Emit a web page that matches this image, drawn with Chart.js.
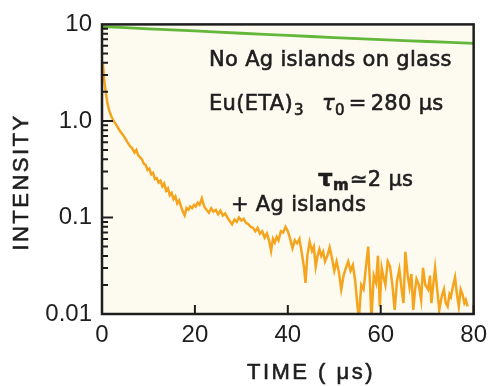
<!DOCTYPE html>
<html>
<head>
<meta charset="utf-8">
<script src="https://cdn.jsdelivr.net/npm/chart.js@4.4.0/dist/chart.umd.min.js"></script>
<style>
  html, body { margin: 0; padding: 0; background: #fff; }
  #wrap { width: 494px; height: 386px; }
</style>
</head>
<body>
<div id="wrap"><canvas id="chart" width="494" height="386"></canvas></div>
<script>
// values
const greenTime = [0, 10, 20, 30, 40, 50, 60, 70, 80];
const greenIntensity = [9.5, 9.0, 8.55, 8.1, 7.7, 7.3, 6.95, 6.65, 6.35];

const orangeTime = [
  0.2, 0.5, 0.8, 1.1, 1.5, 2.0, 2.5, 3.0, 3.5, 4.0, 4.5, 5.0, 5.5, 6.0, 6.5, 7.0, 7.4, 7.8, 8.2, 8.6,
  9.0, 9.4, 9.8, 10.2, 10.6, 11.0, 11.4, 11.8, 12.2, 12.6, 13.0, 13.4, 13.8, 14.2, 14.6, 15.0, 15.4, 15.8, 16.2, 16.6,
  17.0, 17.4, 17.8, 18.2, 18.6, 19.0, 19.4, 19.8, 20.2, 20.6, 21.0, 21.5, 22.0, 22.5, 23.0, 23.5, 24.0, 24.5, 25.0, 25.5,
  26.0, 26.5, 27.0, 27.5, 28.0, 28.5, 29.0, 29.5, 30.0, 30.5, 31.0, 31.5, 32.0, 32.5, 33.0, 33.5, 34.0, 34.5, 35.0, 35.5,
  36.0, 36.4, 36.8, 37.2, 37.6, 38.0, 38.5, 39.0, 39.5, 40.0, 40.5, 41.0, 41.5, 42.0, 42.5, 43.0, 43.5, 43.8, 44.2, 44.7,
  45.2, 45.6, 46.0, 46.4, 46.8, 47.2, 47.6, 48.0, 48.5, 49.0, 49.5, 50.0, 50.5, 51.0, 51.5, 52.0, 52.5, 53.0, 53.5, 54.0,
  54.5, 55.0, 55.3, 55.8, 56.3, 56.8, 57.3, 57.7, 58.0, 58.5, 59.0, 59.4, 59.8, 60.2, 60.6, 61.0, 61.5, 62.0, 62.5, 63.0,
  63.5, 64.0, 64.5, 64.9, 65.3, 65.8, 66.2, 66.6, 67.0, 67.4, 67.7, 68.2, 68.7, 69.1, 69.6, 70.2, 70.6, 70.9, 71.3, 71.7,
  72.2, 72.6, 73.1, 73.6, 74.0, 74.4, 74.8, 75.1, 75.6, 76.0, 76.4, 76.8, 77.2, 77.6, 78.0, 78.3, 78.7
];
const orangeIntensity = [
  3.9, 2.6, 2.0, 1.6, 1.3, 1.12, 1.0, 0.92, 0.84, 0.77, 0.72, 0.66, 0.6, 0.55, 0.52, 0.47, 0.5, 0.44, 0.42, 0.4,
  0.36, 0.35, 0.31, 0.32, 0.28, 0.29, 0.25, 0.255, 0.23, 0.24, 0.21, 0.225, 0.19, 0.2, 0.17, 0.18, 0.155, 0.165, 0.14, 0.15,
  0.13, 0.115, 0.105, 0.125, 0.12, 0.13, 0.125, 0.135, 0.13, 0.142, 0.135, 0.158, 0.13, 0.12, 0.112, 0.125, 0.115, 0.12, 0.108, 0.118,
  0.105, 0.11, 0.1, 0.092, 0.085, 0.095, 0.09, 0.1, 0.093, 0.097, 0.088, 0.085, 0.08, 0.078, 0.072, 0.078, 0.068, 0.072, 0.062, 0.068,
  0.057, 0.045, 0.06, 0.055, 0.063, 0.058, 0.072, 0.07, 0.08, 0.072, 0.06, 0.048, 0.058, 0.054, 0.06, 0.043, 0.03, 0.021, 0.04, 0.056,
  0.045, 0.05, 0.031, 0.04, 0.047, 0.04, 0.044, 0.035, 0.04, 0.049, 0.038, 0.028, 0.035, 0.027, 0.018, 0.025, 0.03, 0.035, 0.028, 0.032,
  0.022, 0.012, 0.009, 0.02, 0.018, 0.03, 0.05, 0.02, 0.009, 0.025, 0.021, 0.04, 0.012, 0.03, 0.024, 0.02, 0.035, 0.031, 0.02, 0.011,
  0.022, 0.029, 0.018, 0.013, 0.044, 0.025, 0.019, 0.026, 0.011, 0.018, 0.023, 0.02, 0.014, 0.03, 0.02, 0.018, 0.025, 0.013, 0.02, 0.03,
  0.017, 0.011, 0.015, 0.018, 0.013, 0.012, 0.016, 0.015, 0.02, 0.024, 0.016, 0.012, 0.018, 0.016, 0.013, 0.014, 0.012
];

const xTickValues = [0, 20, 40, 60, 80];
const yTickValues = [0.01, 0.1, 1, 10];
const yTickLabels = ['0.01', '0.1', '1.0', '10'];

const ink = '#1e1e1e';

// draw a row of text pieces (for the subscripts), slightly stroked to look heavier
function drawRun(ctx, x, y, parts) {
  parts.forEach(p => {
    ctx.font = p.font;
    ctx.fillText(p.text, x, y + (p.dy || 0));
    ctx.strokeText(p.text, x, y + (p.dy || 0));
    x += ctx.measureText(p.text).width + (p.gap || 0);
  });
}

const framePlugin = {
  id: 'frame',
  beforeDatasetsDraw(chart) {
    const { ctx, chartArea: a } = chart;
    ctx.save();
    ctx.fillStyle = '#fdfaf0';
    ctx.fillRect(a.left, a.top, a.right - a.left, a.bottom - a.top);
    ctx.restore();
  },
  afterDatasetsDraw(chart) {
    const { ctx, chartArea: a, scales } = chart;
    ctx.save();
    ctx.strokeStyle = ink;
    ctx.lineWidth = 2.5;
    ctx.strokeRect(a.left, a.top, a.right - a.left, a.bottom - a.top);

    // inward ticks on the log axis
    ctx.lineWidth = 2;
    ctx.beginPath();
    [0.01, 0.1, 1].forEach(dec => {
      for (let k = 1; k <= 9; k++) {
        const y = scales.y.getPixelForValue(dec * k);
        const len = k === 1 ? 11 : 6;
        ctx.moveTo(a.left, y);
        ctx.lineTo(a.left + len, y);
      }
    });
    // inward ticks on the time axis
    xTickValues.forEach(v => {
      const x = scales.x.getPixelForValue(v);
      ctx.moveTo(x, a.bottom);
      ctx.lineTo(x, a.bottom - 9);
    });
    ctx.stroke();
    ctx.restore();
  },
  afterDraw(chart) {
    const { ctx } = chart;
    ctx.save();
    ctx.fillStyle = ink;
    ctx.strokeStyle = ink;
    ctx.lineWidth = 0.6;
    ctx.textBaseline = 'alphabetic';
    if ('letterSpacing' in ctx) ctx.letterSpacing = '0.3px';
    const f = '21px "DejaVu Sans", sans-serif';
    const fs = '15px "DejaVu Sans", sans-serif';
    drawRun(ctx, 209, 66, [{ text: 'No Ag islands on glass', font: f }]);
    drawRun(ctx, 209, 110, [
      { text: 'Eu(ETA)', font: f, gap: 1 },
      { text: '3', font: fs, dy: 5 }
    ]);
    drawRun(ctx, 322, 110, [
      { text: '\u03c4', font: 'italic 21px "DejaVu Sans", sans-serif' },
      { text: '0', font: fs, dy: 5, gap: 4 },
      { text: '=', font: f, gap: 4 },
      { text: '280 \u03bcs', font: f }
    ]);
    drawRun(ctx, 318, 186, [
      { text: '\u03c4', font: 'bold 23px "DejaVu Sans", sans-serif' },
      { text: 'm', font: 'bold 15px "DejaVu Sans", sans-serif', dy: 4, gap: 1 },
      { text: '\u2243', font: f },
      { text: '2 \u03bcs', font: f }
    ]);
    drawRun(ctx, 231, 211, [{ text: '+ Ag islands', font: f }]);

    // axis titles
    if ('letterSpacing' in ctx) ctx.letterSpacing = '2.5px';
    ctx.textAlign = 'center';
    ctx.textBaseline = 'middle';
    ctx.font = '22px "Liberation Sans", Arial, sans-serif';
    ctx.fillText('TIME ( \u03bcs)', 311, 373);
    ctx.strokeText('TIME ( \u03bcs)', 311, 373);
    ctx.translate(22, 182);
    ctx.rotate(-Math.PI / 2);
    ctx.fillText('INTENSITY', 0, 0);
    ctx.strokeText('INTENSITY', 0, 0);
    ctx.restore();
  }
};

const ctx = document.getElementById('chart').getContext('2d');
new Chart(ctx, {
  type: 'line',
  data: {
    datasets: [
      {
        label: 'No Ag islands on glass',
        data: greenTime.map((t, i) => ({ x: t, y: greenIntensity[i] })),
        borderColor: '#63b73a',
        borderWidth: 2.8,
        pointRadius: 0,
        tension: 0.3
      },
      {
        label: '+ Ag islands',
        data: orangeTime.map((t, i) => ({ x: t, y: orangeIntensity[i] })),
        borderColor: '#f5a41e',
        borderWidth: 2.5,
        pointRadius: 0,
        tension: 0,
        clip: 0
      }
    ]
  },
  options: {
    responsive: false,
    animation: false,
    devicePixelRatio: 1,
    layout: { padding: { top: 23, right: 16, left: 0, bottom: 0 } },
    plugins: { legend: { display: false }, tooltip: { enabled: false } },
    scales: {
      x: {
        type: 'linear',
        min: 0,
        max: 80,
        afterBuildTicks: s => { s.ticks = xTickValues.map(v => ({ value: v })); },
        ticks: { color: ink, font: { family: '"Liberation Sans", Arial, sans-serif', size: 24 }, padding: 7, maxRotation: 0 },
        grid: { display: false, drawTicks: false },
        border: { display: false },
        afterFit: s => { s.height = 72; }
      },
      y: {
        type: 'logarithmic',
        min: 0.01,
        max: 10,
        afterBuildTicks: s => { s.ticks = yTickValues.map(v => ({ value: v })); },
        ticks: {
          color: ink,
          font: { family: '"Liberation Sans", Arial, sans-serif', size: 24 },
          padding: 10,
          callback: (v, i) => yTickLabels[i]
        },
        grid: { display: false, drawTicks: false },
        border: { display: false },
        afterFit: s => { s.width = 102; }
      }
    }
  },
  plugins: [framePlugin]
});
</script>
</body>
</html>
